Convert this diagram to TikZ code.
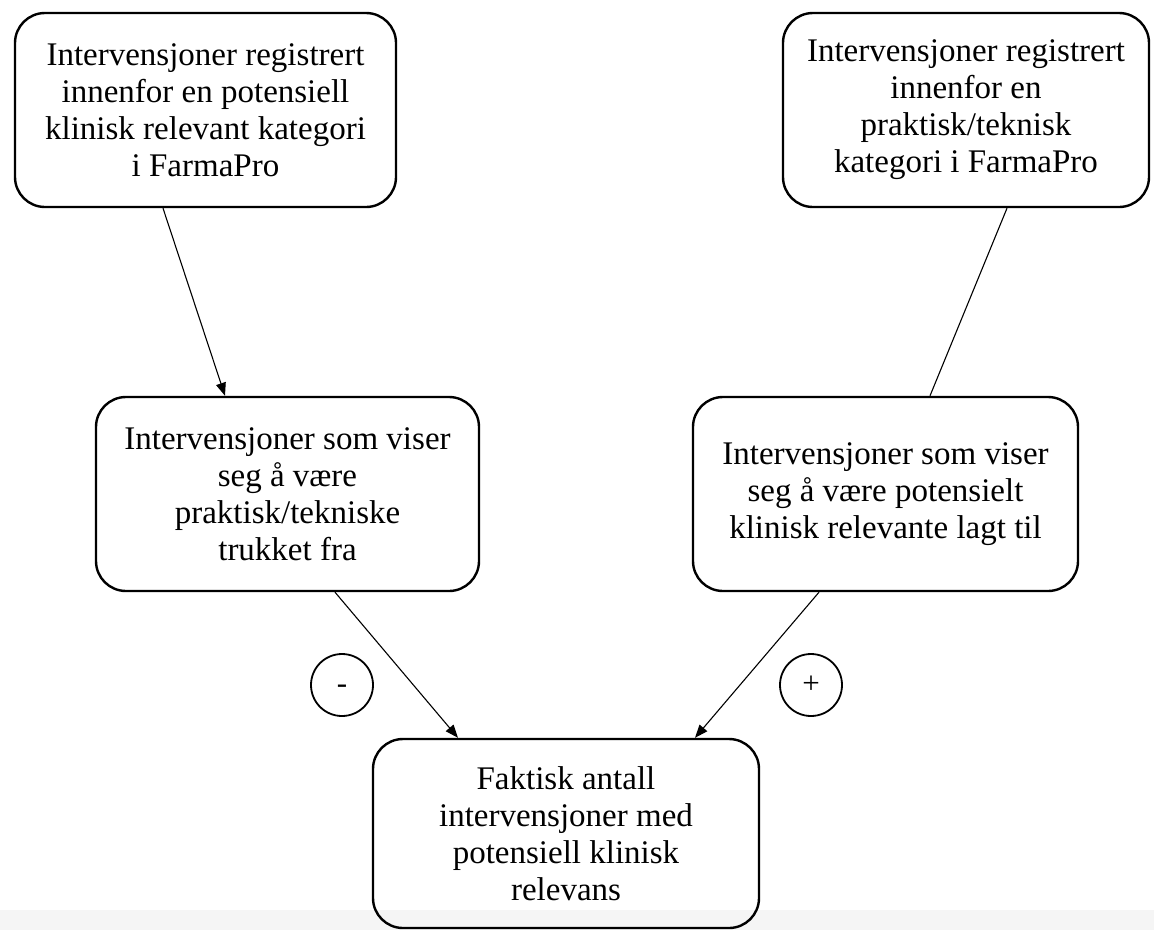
\documentclass[tikz,border=0pt]{standalone}
\usepackage{fontspec}
\setmainfont{Liberation Serif}
\usepackage{tikz}
\usetikzlibrary{arrows.meta,calc}

\tikzset{
  boks/.style={draw,rounded corners=30pt,line width=2.4pt,align=center,
    inner sep=0pt,font=\fontsize{33}{37}\selectfont},
  tegn/.style={draw,circle,line width=1.8pt,minimum size=62pt,inner sep=0pt,
    text height=18pt,text depth=2pt,font=\fontsize{31}{36}\selectfont},
  pil/.style={->,line width=1.1pt}
}

\begin{document}
\begin{tikzpicture}[x=1pt,y=-1pt,>={Triangle[length=13pt,width=10pt]}]
      \useasboundingbox (0,0) rectangle (1154,930);
      \fill[black!4] (0,910) rectangle (1154,930);
      \node[boks,minimum width=381pt,minimum height=194pt] (klin) at (205.5,110)
        {Intervensjoner registrert\\innenfor en potensiell\\klinisk relevant kategori\\i FarmaPro};
      \node[boks,minimum width=366pt,minimum height=194pt] (prak) at (966,110)
        {Intervensjoner registrert\\innenfor en\\praktisk/teknisk\\kategori i FarmaPro};
      \node[boks,minimum width=383pt,minimum height=194pt] (fra) at (287.5,494)
        {Intervensjoner som viser\\seg å være\\praktisk/tekniske\\trukket fra};
      \node[boks,minimum width=385pt,minimum height=194pt] (til) at (885.5,494)
        {Intervensjoner som viser\\seg å være potensielt\\klinisk relevante lagt til};
      \node[boks,minimum width=386pt,minimum height=189pt] (faktisk) at (566,833.5)
        {Faktisk antall\\intervensjoner med\\potensiell klinisk\\relevans};
      \node[tegn] (minus) at (342,685) {-};
      \node[tegn] (pluss) at (811,685) {+};
      \draw[pil] ([xshift=-42.5pt]klin.south) -- ([xshift=-62.5pt]fra.north);
      \draw[line width=1.1pt] ([xshift=41pt]prak.south) -- ([xshift=44.5pt]til.north);
      \draw[pil] ([xshift=47.5pt]fra.south) -- ([xshift=-108pt]faktisk.north);
      \draw[pil] ([xshift=-66.5pt]til.south) -- ([xshift=129pt]faktisk.north);
   \end{tikzpicture}
\end{document}
